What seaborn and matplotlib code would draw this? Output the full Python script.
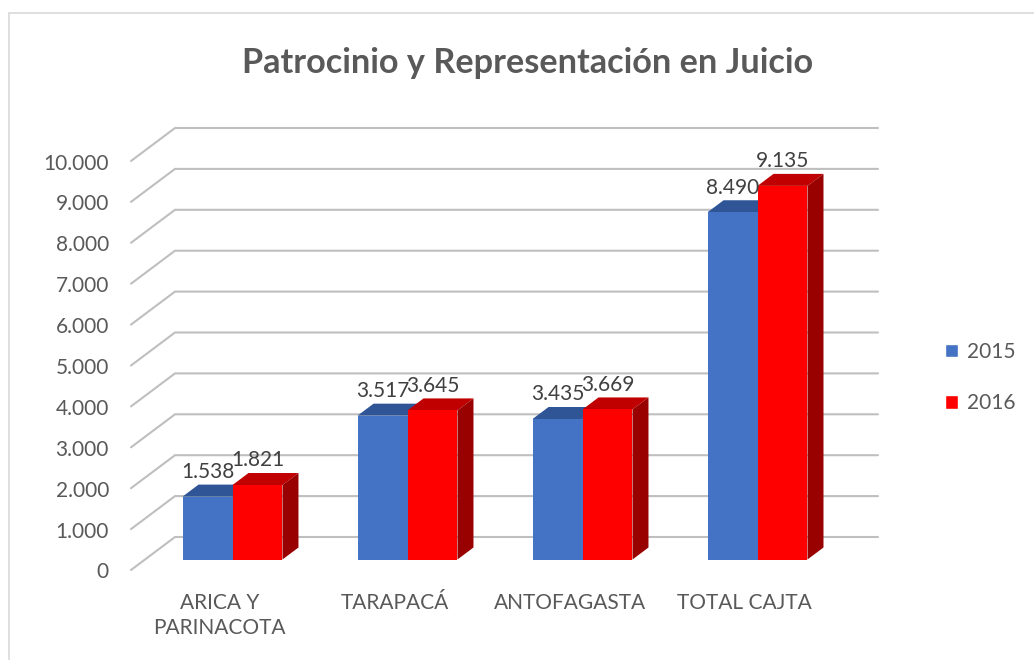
import matplotlib
matplotlib.use('Agg')
import matplotlib.pyplot as plt
import pandas as pd
import seaborn as sns
from matplotlib.patches import Polygon, Rectangle
from matplotlib.transforms import ScaledTranslation

regiones = ['ARICA Y\nPARINACOTA', 'TARAPACÁ', 'ANTOFAGASTA', 'TOTAL CAJTA']
valores_2015 = [1538, 3517, 3435, 8490]
valores_2016 = [1821, 3645, 3669, 9135]
y_ticks = [0, 1000, 2000, 3000, 4000, 5000, 6000, 7000, 8000, 9000, 10000]

def miles(v):
    return f"{int(v):,}".replace(',', '.')

df = pd.DataFrame({
    'region': regiones * 2,
    'anio': ['2015'] * 4 + ['2016'] * 4,
    'valor': valores_2015 + valores_2016,
})

sns.set_theme(style='white')
plt.rcParams['font.family'] = ['Lato', 'DejaVu Sans']
GRIS = '#595959'
W, H = 1034, 660

fig = plt.figure(figsize=(W / 100, H / 100), dpi=100)
# el plano de los ejes es la cara frontal de las barras
left, right, bottom, top = 145, 848, 559.5, 150.5
ax = fig.add_axes([left / W, 1 - bottom / H, (right - left) / W, (bottom - top) / H])

sns.barplot(data=df, x='region', y='valor', hue='anio',
            palette={'2015': '#4472C4', '2016': '#FF0000'},
            saturation=1, width=0.571, gap=0, ax=ax, legend=True)

ax.set_xlim(-0.5, 3.517)
ax.set_ylim(0, 10000)
ax.set_xlabel('')
ax.set_ylabel('')
sns.despine(ax=ax, left=True, bottom=True)

# conversion de pixeles a unidades de datos
ux = 4.017 / (right - left)
uy = 10000 / (bottom - top)

# paredes: lineas de la cuadricula en perspectiva
for t in y_ticks:
    ax.plot([-0.5 - 14 * ux, -0.5 + 30 * ux, 3.517 + 30 * ux],
            [t - 10.5 * uy, t + 22.5 * uy, t + 22.5 * uy],
            color='#BFBFBF', lw=1.5, zorder=0.5, clip_on=False, solid_joinstyle='miter')

# caras superior y lateral de cada barra
colores = [('#2F5597', '#2F5597'), ('#C00000', '#990000')]
dx, dy = 16 * ux, 12 * uy
for i, cont in enumerate(ax.containers):
    c_sup, c_lat = colores[i]
    for b in cont:
        x0, x1 = b.get_x(), b.get_x() + b.get_width()
        h = b.get_height()
        b.set_zorder(3 + 2 * i)
        b.set_linewidth(0)
        ax.add_patch(Polygon([(x0, h), (x0 + dx, h + dy), (x1 + dx, h + dy), (x1, h)],
                             fc=c_sup, lw=0, zorder=2 + 2 * i, clip_on=False))
        ax.add_patch(Polygon([(x1, 0), (x1 + dx, dy), (x1 + dx, h + dy), (x1, h)],
                             fc=c_lat, lw=0, zorder=2 + 2 * i, clip_on=False))
    ax.bar_label(cont, labels=[miles(v) for v in cont.datavalues], padding=10.5,
                 fontsize=15, color='#404040', zorder=10, clip_on=False)

# etiquetas de los ejes desplazadas al borde delantero del piso
ax.set_yticks(y_ticks, [miles(t) for t in y_ticks])
ax.tick_params(axis='y', left=False, pad=20, labelsize=15, labelcolor=GRIS)
ax.tick_params(axis='x', bottom=False, pad=18, labelsize=15, labelcolor=GRIS)
off_y = ScaledTranslation(0, -11 / 100, fig.dpi_scale_trans)
off_x = ScaledTranslation(-13 / 100, 0, fig.dpi_scale_trans)
for lab in ax.get_yticklabels():
    lab.set_transform(lab.get_transform() + off_y)
for lab in ax.get_xticklabels():
    lab.set_transform(lab.get_transform() + off_x)
    lab.set_linespacing(1.3)

fig.text(528 / W, 1 - 63 / H, 'Patrocinio y Representación en Juicio',
         ha='center', va='center', fontsize=24.7, fontweight='bold', color=GRIS)

leg = ax.legend(loc='center left', bbox_to_anchor=(945 / W, 1 - 377.5 / H),
                bbox_transform=fig.transFigure, frameon=False, fontsize=15,
                handlelength=0.62, handleheight=0.62, handletextpad=0.45,
                labelspacing=1.5, borderpad=0, borderaxespad=0)
for t in leg.get_texts():
    t.set_color(GRIS)

# marco exterior del grafico
fig.add_artist(Rectangle((8.5 / W, -0.1), 1.2, 1.1 - 12.5 / H, transform=fig.transFigure,
                         fc='none', ec='#D9D9D9', lw=1.2))

fig.savefig('out.png', dpi=100)
